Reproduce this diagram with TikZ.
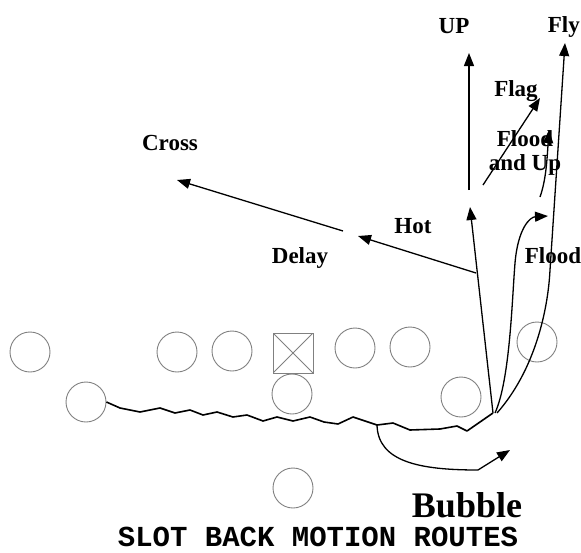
\documentclass[tikz,border=0pt]{standalone}
\usepackage{fontspec}
\setmainfont{Liberation Serif}
\newfontfamily\titlefont{Liberation Mono}
\usetikzlibrary{arrows.meta}

\begin{document}
\begin{tikzpicture}
	[x=1pt, y=-1pt,
	 player/.style={circle, draw=gray, line width=0.9pt, minimum size=40pt, inner sep=0pt},
	 centre/.style={rectangle, draw=gray, line width=0.9pt, minimum size=40pt, inner sep=0pt,
	   path picture={\draw[gray, line width=0.9pt]
	     (path picture bounding box.south west) -- (path picture bounding box.north east)
	     (path picture bounding box.north west) -- (path picture bounding box.south east);}},
	 route/.style={line width=1.3pt, -{Triangle[length=13pt, width=10pt]}},
	 plain/.style={line width=1.3pt},
	 wiggle/.style={line width=1.6pt, line join=round},
	 lbl/.style={font=\bfseries\fontsize{23}{24}\selectfont, inner sep=0pt, anchor=base}]
	\useasboundingbox (0,0) rectangle (581,552);

	% formation
	\node (lt) at (30,352) [player] {};
	\node (lg) at (177,352) [player] {};
	\node (lgg) at (232,351) [player] {};
	\node (ctr) at (293,353) [centre] {};
	\node (rg) at (355,348) [player] {};
	\node (rt) at (410,347) [player] {};
	\node (te) at (537,342) [player] {};
	\node (slot) at (86,402) [player] {};
	\node (qb) at (292,394) [player] {};
	\node (wing) at (461,397) [player] {};
	\node (back) at (293,488) [player] {};

	% motion
	\coordinate (snap) at (493,413);
	\draw[wiggle] (slot.east) -- (120,408) -- (140,412) -- (160,408) -- (175,413)
		-- (190,410) -- (203,415) -- (217,412) -- (233,417) -- (247,415)
		-- (263,421) -- (277,417) -- (293,421) -- (310,417) -- (324,422)
		-- (338,424) -- (353,417) -- (377,425) -- (393,423) -- (410,430)
		-- (440,429) -- (457,426) -- (467,431) -- (snap);

	% routes
	\coordinate (hotbreak) at (476,273);
	\coordinate (hotend) at (470,207);
	\coordinate (hottip) at (358,236);
	\coordinate (crossbase) at (343,231);
	\coordinate (crosstip) at (177,180);
	\coordinate (upbase) at (469,190);
	\coordinate (uptip) at (469,53);
	\coordinate (flagbase) at (483,185);
	\coordinate (flagtip) at (540,98);
	\coordinate (fubase) at (540,197);
	\coordinate (futip) at (549,130);
	\coordinate (floodtip) at (548,216);
	\coordinate (flytip) at (565,43);
	\coordinate (bubble) at (377,425);
	\coordinate (bubknee) at (478,470);
	\coordinate (bubtip) at (510,450);

	\draw[route] (snap) -- (hotend);
	\draw[route] (hotbreak) -- (hottip);
	\draw[route] (crossbase) -- (crosstip);
	\draw[route] (upbase) -- (uptip);
	\draw[route] (flagbase) -- (flagtip);
	\draw[route] (fubase) .. controls (546,180) and (547,160) .. (futip);
	\draw[route] ([xshift=2pt]snap) .. controls (510,380) and (512,300) .. (515,263)
		.. controls (518,228) and (530,217) .. (floodtip);
	\draw[route] ([xshift=4pt]snap) .. controls (535,370) and (548,310) .. (550,270) -- (flytip);
	\draw[route] (bubble) .. controls (378,462) and (420,470) .. (bubknee) -- (bubtip);

	% labels
	\node (up) at (454,33) [lbl] {UP};
	\node (fly) at (580,32) [lbl, anchor=base east] {Fly};
	\node (flag) at (516,96) [lbl] {Flag};
	\node (floodup) at (525,170) [lbl, align=center] {Flood\\and Up};
	\node (cross) at (170,150) [lbl] {Cross};
	\node (hot) at (413,233) [lbl] {Hot};
	\node (delay) at (300,263) [lbl] {Delay};
	\node (flood) at (553,263) [lbl] {Flood};
	\node (bub) at (467,517) [lbl, font=\bfseries\fontsize{36}{38}\selectfont] {Bubble};
	\node (caption) at (318,546) [anchor=base, inner sep=0pt,
		font=\titlefont\bfseries\fontsize{29}{30}\selectfont] {SLOT BACK MOTION ROUTES};
\end{tikzpicture}
\end{document}
